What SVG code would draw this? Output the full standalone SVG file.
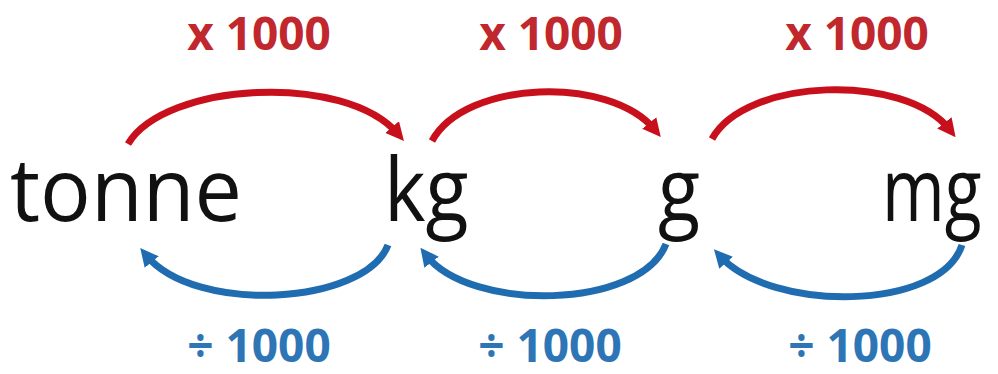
<svg xmlns="http://www.w3.org/2000/svg" width="998" height="374" viewBox="0 0 998 374">
<defs>
<style>
.unit{font-family:"Open Sans","Liberation Sans",sans-serif;font-size:88px;fill:#111}
.lbl{font-family:"Open Sans","Liberation Sans",sans-serif;font-size:46px;font-weight:bold;text-anchor:middle}
.r{fill:#c0282d}.b{fill:#2e75b6}
.ar{fill:none;stroke:#c8101c;stroke-width:7;stroke-linecap:butt}
.ab{fill:none;stroke:#1f6db0;stroke-width:7;stroke-linecap:butt}
</style>
<marker id="mr" viewBox="0 0 10 10" refX="5" refY="5" markerWidth="2.6" markerHeight="2.6" orient="auto" markerUnits="strokeWidth"><path d="M0,0L10,5L0,10z" fill="#c8101c"/></marker>
<marker id="mb" viewBox="0 0 10 10" refX="5" refY="5" markerWidth="2.6" markerHeight="2.6" orient="auto" markerUnits="strokeWidth"><path d="M0,0L10,5L0,10z" fill="#1f6db0"/></marker>
</defs>
<rect width="998" height="374" fill="#fff"/>
<g id="tonne"><text class="unit" transform="translate(10,221) scale(0.96,1)">tonne</text></g>
<g id="kg"><text class="unit" transform="translate(384,221) scale(0.9,1)">kg</text></g>
<g id="g"><text class="unit" transform="translate(658,221) scale(0.88,1)">g</text></g>
<g id="mg"><text class="unit" transform="translate(882,221) scale(0.77,1)">mg</text></g>
<g id="labels">
<text class="lbl r" x="259" y="50">x 1000</text>
<text class="lbl r" x="551" y="50">x 1000</text>
<text class="lbl r" x="857" y="50">x 1000</text>
<text class="lbl b" x="259" y="362">÷ 1000</text>
<text class="lbl b" x="550" y="362">÷ 1000</text>
<text class="lbl b" x="860" y="362">÷ 1000</text>
</g>
<g id="connectors">
<path class="ar" d="M128,144 C165,82 345,72 398,134" marker-end="url(#mr)"/>
<path class="ar" d="M432,141 C465,80 610,75 655,130" marker-end="url(#mr)"/>
<path class="ar" d="M712,139 C745,78 905,72 950,130" marker-end="url(#mr)"/>
<path class="ab" d="M388,245 C365,305 195,315 146,255" marker-end="url(#mb)"/>
<path class="ab" d="M666,244 C640,310 470,312 426,255" marker-end="url(#mb)"/>
<path class="ab" d="M962,245 C940,312 770,312 720,256" marker-end="url(#mb)"/>
</g>
</svg>
